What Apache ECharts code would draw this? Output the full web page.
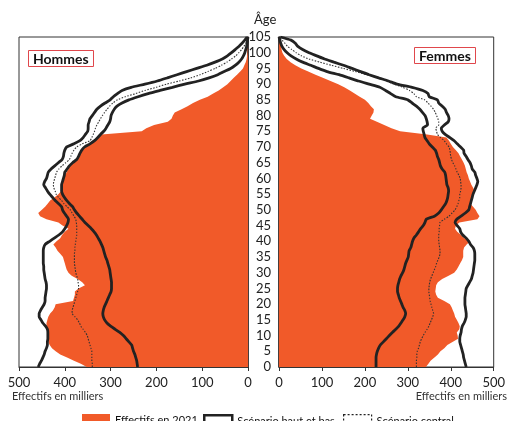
<!DOCTYPE html>
<html><head><meta charset="utf-8">
<script src="https://cdn.jsdelivr.net/npm/echarts@6/dist/echarts.min.js"></script>
<style>html,body{margin:0;padding:0;background:#fff}#c{width:508px;height:421px}</style>
</head><body><div id="c"></div>
<script>
// Ages 0..105 (category axis)
const ages = Array.from({length: 106}, (_, i) => String(i));
const xTicks = [0, 100, 200, 300, 400, 500];

// Hommes (milliers)
const M2021 = [352,365,380,395,410,420,428,433,436,437, 436,436,437,440,440,438,436,432,426,422,
  420,382,380,378,378,370,356,362,372,385, 392,396,398,400,402,404,410,416,420,425,
  418,410,406,400,392,405,414,440,454,458, 450,443,437,432,422,414,408,406,405,404,
  402,400,396,392,388,382,373,368,366,362, 355,346,338,330,320,232,222,205,175,167,
  164,160,145,132,120,105,88,76,64,54, 45,38,31,24,17,11,8,5,3,2, 1,1,0,0,0,0];
const MHaut = [458,455,451,448,445,443,440,438,438,437, 437,437,438,442,448,452,456,456,453,449,
  445,443,443,442,441,440,440,441,443,444, 445,446,446,447,447,447,447,447,446,443,
  433,423,413,405,400,396,393,392,396,401, 405,407,414,421,427,433,438,442,446,444,
  440,438,436,430,422,414,406,403,402,400, 396,380,367,360,355,350,349,349,347,345,
  340,335,330,322,312,301,294,285,275,255, 225,198,176,155,134,112,90,72,56,45, 36,28,20,13,7,2];
const MBas = [241,242,243,245,247,250,252,254,260,266, 272,280,290,300,308,313,316,317,316,314,
  311,308,305,302,299,298,298,298,299,300, 301,302,304,306,308,311,313,315,317,320,
  323,327,331,336,342,349,356,362,368,374, 379,383,390,396,401,405,407,407,407,405,
  403,401,400,395,390,383,374,370,367,363, 357,345,335,328,322,315,310,306,302,300,
  299,296,292,286,275,260,240,218,192,165, 138,108,85,66,52,38,28,20,14,10, 7,5,3,2,1,0];
const MCentral = [340,340,341,341,341,341,343,345,347,349, 351,355,360,365,368,372,378,384,384,382,
  380,378,376,374,372,370,370,371,372,374, 376,377,378,379,379,379,379,378,378,377,
  376,375,374,374,374,374,375,376,380,384, 388,395,402,407,414,419,421,424,425,424,
  422,420,418,413,406,398,390,387,384,380, 374,362,345,341,338,335,333,330,326,322,
  318,313,308,302,295,285,268,245,225,200, 178,150,125,105,88,72,58,46,36,27, 20,14,9,5,2,0];

// Femmes (milliers)
const F2021 = [342,348,353,362,370,376,385,392,405,417, 416,414,420,421,418,414,410,408,405,402,
  398,385,370,366,364,365,366,370,380,395, 408,414,418,422,426,429,429,429,431,437,
  445,432,424,415,410,412,420,462,467,462, 458,452,445,446,450,454,456,452,448,445,
  442,440,437,435,433,430,426,422,418,412, 405,400,396,390,345,282,262,245,228,212,
  216,220,221,214,208,200,188,176,165,152, 138,120,102,85,68,52,38,27,18,12, 8,6,5,3,1,0];
const FHaut = [436,434,432,430,429,427,425,423,421,421, 422,424,425,427,431,434,436,436,435,434,
  433,433,433,434,435,436,440,444,448,450, 452,453,454,455,456,456,456,455,452,446,
  442,436,428,423,421,415,410,414,424,434, 442,444,446,448,450,452,455,458,461,463,
  461,458,456,450,448,445,440,436,431,430, 423,415,408,398,387,380,378,385,394,396,
  394,390,387,380,372,369,350,347,335,310, 275,255,232,210,190,170,150,128,106,88, 70,55,44,38,28,3];
const FBas = [226,226,226,226,227,229,232,236,243,250, 257,264,272,279,284,289,293,295,293,289,
  286,283,280,278,276,276,277,279,281,284, 288,291,293,295,298,301,302,303,307,309,
  311,314,320,325,330,336,340,343,362,372, 378,383,388,391,393,394,395,394,391,390,
  389,388,386,380,376,374,372,369,367,364, 357,350,345,340,338,336,335,346,345,343,
  340,334,328,320,310,300,272,260,248,235, 210,185,163,140,112,92,74,55,40,28, 19,12,7,4,2,0];
const FCentral = [320,320,320,321,321,322,325,327,329,332, 336,340,345,349,352,355,358,360,358,356,
  354,352,351,350,349,349,350,351,353,356, 359,362,365,367,370,373,375,375,374,373,
  372,372,372,373,373,374,375,385,396,403, 410,414,417,419,421,421,423,424,424,423,
  422,419,415,412,409,405,402,400,399,398, 396,390,385,376,369,367,365,372,372,370,
  367,364,360,354,347,339,320,314,304,288, 268,250,235,205,178,150,122,95,70,52, 40,30,20,14,7,0];

const FONT = 'Lato, "Open Sans", sans-serif';
const ORANGE = '#F15A29';
const INK = '#222';

const chart = echarts.init(document.getElementById('c'), null, {renderer: 'canvas'});

function xAxis(grid, inverse) {
  return {
    type: 'value', gridIndex: grid, min: xTicks[0], max: xTicks[xTicks.length - 1], interval: 100,
    inverse: inverse,
    axisLine: {show: true, lineStyle: {color: '#333', width: 1}},
    axisTick: {show: true, inside: false, length: 4, lineStyle: {color: '#333'}},
    axisLabel: {fontFamily: FONT, fontSize: 13, color: INK, margin: 9},
    splitLine: {show: false}
  };
}
function yAxis(grid, pos, showLabel) {
  return {
    type: 'category', gridIndex: grid, data: ages, boundaryGap: false, position: pos,
    axisLine: {show: true, lineStyle: {color: '#2a2020', width: 1.5}},
    axisTick: {show: false},
    axisLabel: {show: showLabel, interval: 4, fontFamily: FONT, fontSize: 13, color: INK, margin: 8},
    splitLine: {show: false}
  };
}
function area(name, data, gi) {
  return {name: name, type: 'line', xAxisIndex: gi, yAxisIndex: gi, data: data, symbol: 'none',
    lineStyle: {width: 0}, areaStyle: {color: ORANGE, opacity: 1}, itemStyle: {color: ORANGE},
    silent: true, z: 1};
}
function solid(name, data, gi) {
  return {name: name, type: 'line', xAxisIndex: gi, yAxisIndex: gi, data: data, symbol: 'none',
    smooth: 0.2, lineStyle: {width: 2.8, color: INK}, itemStyle: {color: INK}, silent: true, z: 4};
}
function dotted(name, data, gi) {
  return {name: name, type: 'line', xAxisIndex: gi, yAxisIndex: gi, data: data, symbol: 'none',
    smooth: 0.2, lineStyle: {width: 1.1, color: '#333', type: [1.5, 1.5]}, itemStyle: {color: '#333'},
    silent: true, z: 3};
}
function legendItem(left, item) {
  return {
    left: left, top: 414, padding: 0, itemWidth: 28, itemHeight: 13, selectedMode: false,
    textStyle: {fontFamily: FONT, fontSize: 11, color: '#111'},
    data: [item]
  };
}

const option = {
  animation: false,
  backgroundColor: '#fff',
  textStyle: {fontFamily: FONT},
  grid: [
    {left: 19, top: 37, width: 229, height: 330, show: true, borderColor: '#333', borderWidth: 1, backgroundColor: 'transparent'},
    {left: 279, top: 37, width: 218, height: 330, show: true, borderColor: '#333', borderWidth: 1, backgroundColor: 'transparent'}
  ],
  xAxis: [xAxis(0, true), xAxis(1, false)],
  yAxis: [yAxis(0, 'right', false), yAxis(1, 'left', true)],
  title: [
    {text: 'Hommes', left: 28, top: 50, padding: [2, 5, 1, 5], borderColor: '#E0474C', borderWidth: 1,
      textStyle: {fontFamily: FONT, fontSize: 14, fontWeight: 'bold', color: '#111'}},
    {text: 'Femmes', left: 414, top: 47, padding: [2, 5, 1, 5], borderColor: '#E0474C', borderWidth: 1,
      textStyle: {fontFamily: FONT, fontSize: 14, fontWeight: 'bold', color: '#111'}}
  ],
  legend: [
    legendItem(82, {name: 'Effectifs en 2021', icon: 'rect', itemStyle: {color: ORANGE, borderWidth: 0}}),
    legendItem(203, {name: 'Scénario haut et bas', icon: 'rect', itemStyle: {color: '#fff', borderColor: INK, borderWidth: 2.5}}),
    legendItem(343, {name: 'Scénario central', icon: 'rect', itemStyle: {color: '#fff', borderColor: '#222', borderWidth: 1.2, borderType: [2, 2]}})
  ],
  graphic: [
    {type: 'text', left: 254, top: 13, style: {text: 'Âge', font: '13px ' + FONT, fill: INK}},
    {type: 'text', left: 12, top: 391, style: {text: 'Effectifs en milliers', font: '11px ' + FONT, fill: '#333'}},
    {type: 'text', right: 1, top: 391, style: {text: 'Effectifs en milliers', font: '11px ' + FONT, fill: '#333'}}
  ],
  series: [
    area('Effectifs en 2021', M2021, 0),
    area('Effectifs en 2021', F2021, 1),
    dotted('Scénario central', MCentral, 0),
    dotted('Scénario central', FCentral, 1),
    solid('Scénario haut et bas', MHaut, 0),
    solid('Scénario haut et bas', MBas, 0),
    solid('Scénario haut et bas', FHaut, 1),
    solid('Scénario haut et bas', FBas, 1)
  ]
};
chart.setOption(option);
</script>
</body></html>
